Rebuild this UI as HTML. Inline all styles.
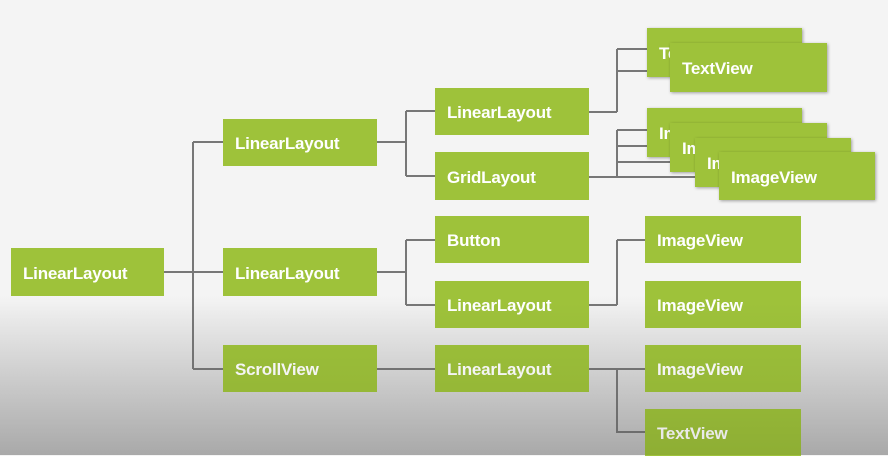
<!DOCTYPE html>
<html><head><style>
body{margin:0;width:888px;height:455px;overflow:hidden;position:relative;background:linear-gradient(#f4f4f4 0,#f4f4f4 295px,#d0d0d0 395px,#bcbcbc 455px);font-family:"Liberation Sans",sans-serif}
.b{position:absolute;background:#9ec23a;color:#fff;font-weight:bold;font-size:17px;box-sizing:border-box;padding-left:12px;padding-top:3px;display:flex;align-items:center;letter-spacing:-0.2px}
.s{box-shadow:1px 1px 3px rgba(0,0,0,.35)}
svg{position:absolute;left:0;top:0}
.ov{position:absolute;left:0;top:0;width:888px;height:455px;background:linear-gradient(rgba(0,0,0,0) 0,rgba(0,0,0,0) 300px,rgba(0,0,0,.06) 400px,rgba(0,0,0,.1) 455px);pointer-events:none}
</style></head><body>
<svg width="888" height="455" fill="none" stroke="#777" stroke-width="2">
<path d="M164 272H223M193 142V369M193 142H223M193 369H223"/>
<path d="M377 142H406M406 111V176M406 111H435M406 176H435"/>
<path d="M377 272H406M406 240V305M406 240H435M406 305H435"/>
<path d="M377 369H435"/>
<path d="M589 112H617M617 49V112M617 49H650M617 71H672"/>
<path d="M589 177H719M617 130V177M617 130H650M617 146H672M617 162H697"/>
<path d="M589 305H617M617 240V305M617 240H645"/>
<path d="M589 369H645M617 369V432H645"/>
</svg>
<div class="b" style="left:11px;top:248px;width:153px;height:48px">LinearLayout</div>
<div class="b" style="left:223px;top:119px;width:154px;height:47px">LinearLayout</div>
<div class="b" style="left:223px;top:248px;width:154px;height:48px">LinearLayout</div>
<div class="b" style="left:223px;top:345px;width:154px;height:47px">ScrollView</div>
<div class="b" style="left:435px;top:88px;width:154px;height:47px">LinearLayout</div>
<div class="b" style="left:435px;top:152px;width:154px;height:48px">GridLayout</div>
<div class="b" style="left:435px;top:216px;width:154px;height:47px">Button</div>
<div class="b" style="left:435px;top:281px;width:154px;height:47px">LinearLayout</div>
<div class="b" style="left:435px;top:345px;width:154px;height:47px">LinearLayout</div>
<div class="b" style="left:645px;top:216px;width:156px;height:47px">ImageView</div>
<div class="b" style="left:645px;top:281px;width:156px;height:47px">ImageView</div>
<div class="b" style="left:645px;top:345px;width:156px;height:47px">ImageView</div>
<div class="b" style="left:645px;top:409px;width:156px;height:47px">TextView</div>
<div class="b s" style="left:647px;top:28px;width:155px;height:49px">TextView</div>
<div class="b s" style="left:670px;top:43px;width:157px;height:49px">TextView</div>
<div class="b s" style="left:647px;top:108px;width:155px;height:49px">ImageView</div>
<div class="b s" style="left:670px;top:123px;width:157px;height:49px">ImageView</div>
<div class="b s" style="left:695px;top:138px;width:156px;height:49px">ImageView</div>
<div class="b s" style="left:719px;top:152px;width:156px;height:48px">ImageView</div>
<div class="ov"></div>
</body></html>
